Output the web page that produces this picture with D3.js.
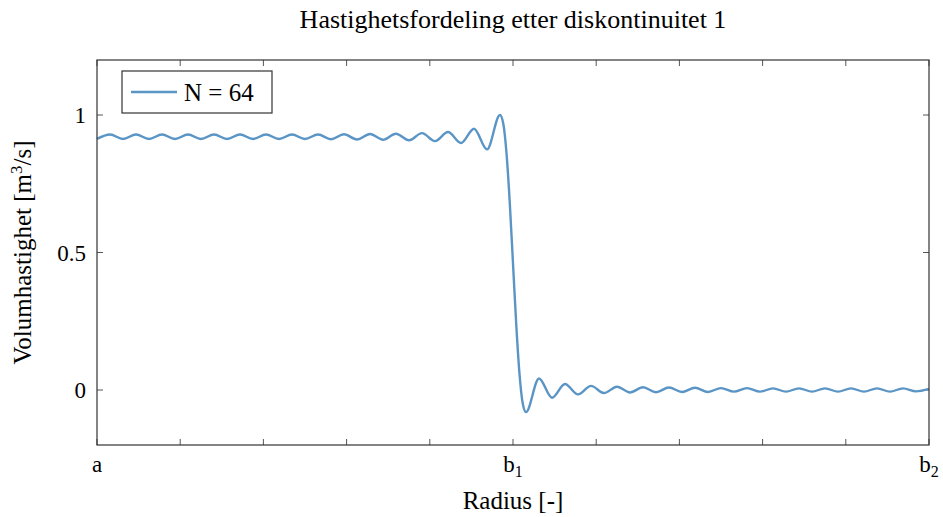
<!DOCTYPE html>
<html>
<head>
<meta charset="utf-8">
<script src="https://cdn.jsdelivr.net/npm/d3@7"></script>
<style>
  body { margin: 0; background: #fff; }
  text { font-family: "Liberation Serif", "Times New Roman", serif; fill: #000; }
</style>
</head>
<body>
<script>
// data (extrema + points on the steep drop)
var radius = [
  0, 0.03125, 0.0625, 0.09375, 0.125, 0.15625, 0.1875, 0.21875,
  0.25, 0.28125, 0.3125, 0.34375, 0.375, 0.40625, 0.4375, 0.46875,
  0.5, 0.53125, 0.5625, 0.59375, 0.625, 0.65625, 0.6875, 0.71875,
  0.75, 0.78125, 0.8125, 0.84375, 0.875, 0.90625, 0.9375, 0.96875,
  0.9766, 0.9844, 0.9922, 1.0, 1.0078, 1.0156, 1.0234,
  1.03125, 1.0625, 1.09375, 1.125, 1.15625, 1.1875, 1.21875, 1.25,
  1.28125, 1.3125, 1.34375, 1.375, 1.40625, 1.4375, 1.46875, 1.5,
  1.53125, 1.5625, 1.59375, 1.625, 1.65625, 1.6875, 1.71875, 1.75,
  1.78125, 1.8125, 1.84375, 1.875, 1.90625, 1.9375, 1.96875, 2.0
];
var velocity = [
  0.913, 0.929, 0.913, 0.929, 0.913, 0.929, 0.913, 0.929,
  0.913, 0.929, 0.913, 0.929, 0.913, 0.929, 0.913, 0.929,
  0.913, 0.929, 0.912, 0.930, 0.911, 0.931, 0.910, 0.932,
  0.908, 0.934, 0.905, 0.938, 0.898, 0.950, 0.875, 1.000,
  0.969, 0.861, 0.682, 0.460, 0.238, 0.059, -0.049,
  -0.080, 0.042, -0.028, 0.022, -0.016, 0.015, -0.011, 0.012,
  -0.009, 0.010, -0.008, 0.009, -0.007, 0.008, -0.007, 0.007,
  -0.006, 0.007, -0.006, 0.006, -0.006, 0.006, -0.006, 0.006,
  -0.006, 0.006, -0.006, 0.006, -0.006, 0.006, -0.005, 0.004
];
var xTicks = [0, 0.2, 0.4, 0.6, 0.8, 1, 1.2, 1.4, 1.6, 1.8, 2];
var xTickLabels = [[0, "a", ""], [1, "b", "1"], [2, "b", "2"]];
var yTicks = [0, 0.5, 1];
var seriesName = "N = 64";

var data = radius.map(function(r, i) { return {r: r, v: velocity[i]}; });

var W = 943, H = 517;
var margin = {top: 60, right: 14, bottom: 72, left: 97},
    width = W - margin.left - margin.right,
    height = H - margin.top - margin.bottom;

var svg = d3.select("body").append("svg")
    .attr("width", W)
    .attr("height", H);

var g = svg.append("g")
    .attr("transform", "translate(" + margin.left + "," + margin.top + ")");

var x = d3.scaleLinear().domain([0, 2]).range([0, width]);
var y = d3.scaleLinear().domain([-0.2, 1.2]).range([height, 0]);

var tickLen = 6;
var tickColor = "#555";

// x ticks, bottom and top, pointing inward
g.selectAll(".xt").data(xTicks).enter().append("line")
    .attr("x1", function(d) { return x(d); }).attr("x2", function(d) { return x(d); })
    .attr("y1", height).attr("y2", height - tickLen)
    .attr("stroke", tickColor).attr("stroke-width", 1);
g.selectAll(".xtt").data(xTicks).enter().append("line")
    .attr("x1", function(d) { return x(d); }).attr("x2", function(d) { return x(d); })
    .attr("y1", 0).attr("y2", tickLen)
    .attr("stroke", tickColor).attr("stroke-width", 1);

// y ticks left and right
g.selectAll(".yt").data(yTicks).enter().append("line")
    .attr("x1", 0).attr("x2", tickLen)
    .attr("y1", function(d) { return y(d); }).attr("y2", function(d) { return y(d); })
    .attr("stroke", tickColor).attr("stroke-width", 1);
g.selectAll(".ytr").data(yTicks).enter().append("line")
    .attr("x1", width).attr("x2", width - tickLen)
    .attr("y1", function(d) { return y(d); }).attr("y2", function(d) { return y(d); })
    .attr("stroke", tickColor).attr("stroke-width", 1);

// y tick labels
g.selectAll(".yl").data(yTicks).enter().append("text")
    .attr("x", -11)
    .attr("y", function(d) { return y(d); })
    .attr("dy", "0.35em")
    .attr("text-anchor", "end")
    .style("font-size", "23px")
    .text(function(d) { return d3.format("")(d); });

// x tick labels with subscripts
xTickLabels.forEach(function(t) {
  var txt = g.append("text")
      .attr("x", x(t[0]))
      .attr("y", height + 27)
      .attr("text-anchor", "middle")
      .style("font-size", "23px");
  txt.append("tspan").text(t[1]);
  if (t[2]) {
    txt.append("tspan").attr("dy", 5).style("font-size", "16px").text(t[2]);
  }
});

// the curve
var line = d3.line()
    .x(function(d) { return x(d.r); })
    .y(function(d) { return y(d.v); })
    .curve(d3.curveMonotoneX);

g.append("path")
    .datum(data)
    .attr("fill", "none")
    .attr("stroke", "#5a95c5")
    .attr("stroke-width", 2.4)
    .attr("stroke-linejoin", "round")
    .attr("d", line);

// frame
g.append("rect")
    .attr("width", width).attr("height", height)
    .attr("fill", "none")
    .attr("stroke", "#333")
    .attr("stroke-width", 1.2);

// legend
var lg = g.append("g").attr("transform", "translate(25,11)");
lg.append("rect")
    .attr("width", 150).attr("height", 42)
    .attr("fill", "#fff").attr("stroke", "#333").attr("stroke-width", 1.2);
lg.append("line")
    .attr("x1", 9).attr("x2", 55).attr("y1", 21).attr("y2", 21)
    .attr("stroke", "#5a95c5").attr("stroke-width", 2.4);
lg.append("text")
    .attr("x", 62).attr("y", 30)
    .style("font-size", "25px")
    .text(seriesName);

// title
svg.append("text")
    .attr("x", margin.left + width / 2)
    .attr("y", 28)
    .attr("text-anchor", "middle")
    .style("font-size", "26px")
    .text("Hastighetsfordeling etter diskontinuitet 1");

// axis labels
svg.append("text")
    .attr("x", margin.left + width / 2)
    .attr("y", 509)
    .attr("text-anchor", "middle")
    .style("font-size", "25px")
    .text("Radius [-]");

var yl = svg.append("text")
    .attr("transform", "translate(31," + (margin.top + y(0.5)) + ") rotate(-90)")
    .attr("text-anchor", "middle")
    .style("font-size", "25px");
yl.append("tspan").text("Volumhastighet [m");
yl.append("tspan").attr("dy", -9).style("font-size", "17px").text("3");
yl.append("tspan").attr("dy", 9).text("/s]");
</script>
</body>
</html>
